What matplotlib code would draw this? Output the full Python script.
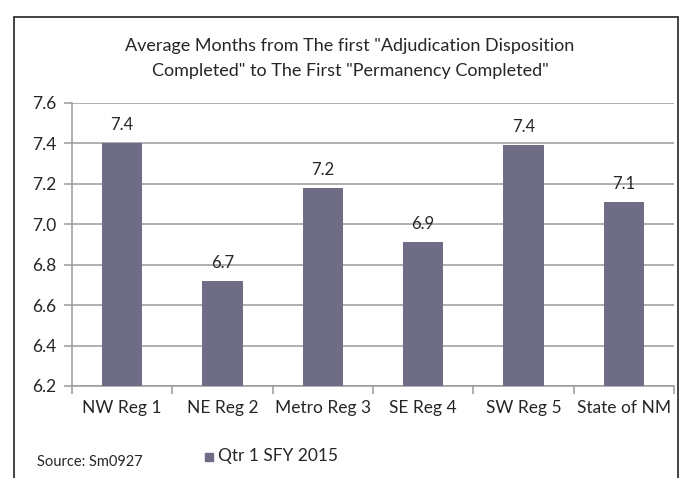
import matplotlib
matplotlib.use("Agg")
import matplotlib.pyplot as plt
from matplotlib.patches import Rectangle
import numpy as np

categories = ["NW Reg 1", "NE Reg 2", "Metro Reg 3", "SE Reg 4", "SW Reg 5", "State of NM"]
values = [7.40, 6.72, 7.18, 6.91, 7.39, 7.11]
labels = ["7.4", "6.7", "7.2", "6.9", "7.4", "7.1"]
yticks = [6.2, 6.4, 6.6, 6.8, 7.0, 7.2, 7.4, 7.6]
series_name = "Qtr 1 SFY 2015"
title = 'Average Months from The first "Adjudication Disposition\nCompleted" to The First "Permanency Completed"'
source = "Source: Sm0927"

bar_color = "#6e6d85"
grid_color = "#9a9a9a"
text_color = "#262626"
font = ["Lato", "DejaVu Sans"]

fig = plt.figure(figsize=(6.85, 4.78), dpi=100)
ax = fig.add_axes([72/685, 1-386/478, (674-72)/685, (386-102.7)/478])

x = np.arange(len(categories))
ax.bar(x, values, width=0.4, color=bar_color, zorder=3)
for xi, v, lab in zip(x, values, labels):
    ax.text(xi, v + 0.05, lab, ha="center", va="bottom", fontsize=12,
            color=text_color, family=font)

ax.set_xlim(-0.5, len(categories) - 0.5)
ax.set_ylim(6.2, 7.6)
ax.set_yticks(yticks)
ax.set_yticklabels([f"{t:.1f}" for t in yticks], family=font, fontsize=12.5, color=text_color)
ax.yaxis.grid(True, color=grid_color, linewidth=1.1, zorder=0)

ax.set_xticks(x)
ax.set_xticklabels(categories, family=font, fontsize=12.5, color=text_color)
ax.tick_params(axis="x", which="major", length=0, pad=10)
ax.set_xticks(np.arange(-0.5, len(categories), 1.0), minor=True)
ax.tick_params(axis="x", which="minor", length=6, color=grid_color, width=1.1, direction="out")
ax.tick_params(axis="y", length=6, color=grid_color, width=1.1, direction="out", pad=5)

for s in ["top", "right"]:
    ax.spines[s].set_visible(False)
for s in ["left", "bottom"]:
    ax.spines[s].set_color(grid_color)
    ax.spines[s].set_linewidth(1.1)

fig.text(350/685, 1-58.5/478, title, ha="center", va="center", fontsize=13,
         color=text_color, family=font, linespacing=1.65)

# legend
fig.patches.append(Rectangle((205/685, 1-461/478), 8/685, 8/478, transform=fig.transFigure,
                             color=bar_color, zorder=5))
fig.text(218/685, 1-456/478, series_name, ha="left", va="center", fontsize=12.5,
         color=text_color, family=font)
fig.text(37/685, 1-462/478, source, ha="left", va="center", fontsize=10.5,
         color=text_color, family=font)

# outer frame
fig.patches.append(Rectangle((14/685, -0.05), (678-14)/685, 1.05 - 17/478,
                             transform=fig.transFigure, fill=False,
                             edgecolor="#222222", linewidth=1.2))

fig.savefig("out.png", dpi=100)
